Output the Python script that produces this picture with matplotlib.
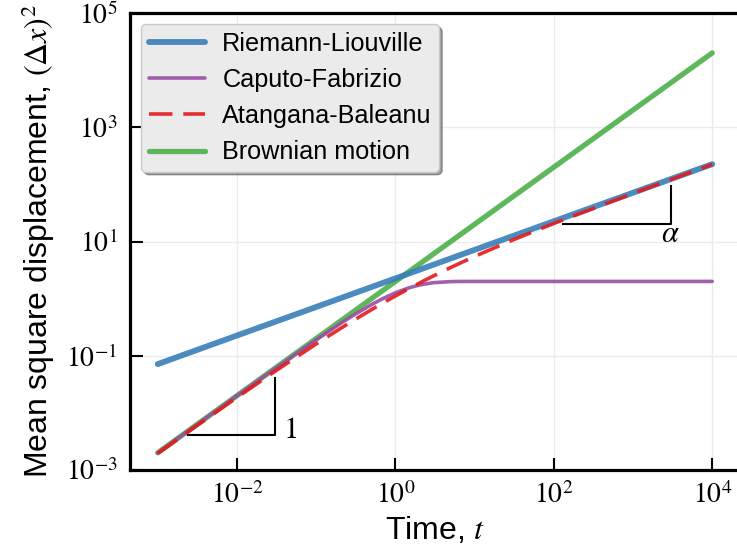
import math
import matplotlib
matplotlib.use('Agg')
import matplotlib.pyplot as plt
from matplotlib.ticker import FuncFormatter

plt.rcParams['font.family'] = ['Liberation Sans', 'DejaVu Sans']
plt.rcParams['mathtext.fontset'] = 'stix'

# values
t_line = [1e-3, 1e-2, 1e-1, 1e0, 1e1, 1e2, 1e3, 1e4]
msd_rl = [0.0714, 0.226, 0.714, 2.26, 7.14, 22.6, 71.4, 226.0]
msd_bm = [0.002, 0.02, 0.2, 2.0, 20.0, 200.0, 2000.0, 20000.0]

t_cf = [1e-3, 3e-3, 1e-2, 3e-2, 0.1, 0.2, 0.3, 0.5, 0.7, 1.0, 1.5, 2.0, 3.0, 5.0, 7.0, 10.0, 100.0, 1e4]
msd_cf = [0.002, 0.00599, 0.0199, 0.0591, 0.190, 0.363, 0.518, 0.787, 1.007, 1.264, 1.554,
          1.729, 1.900, 1.987, 1.998, 2.0, 2.0, 2.0]

t_ab = [1e-3, 3e-3, 1e-2, 3e-2, 0.1, 0.2, 0.3, 0.5, 0.7, 1.0, 1.5, 2.0, 3.0, 5.0, 10.0, 30.0, 100.0, 1e3, 1e4]
msd_ab = [0.00195, 0.00576, 0.0186, 0.0530, 0.161, 0.297, 0.420, 0.642, 0.842, 1.112, 1.512,
          1.864, 2.484, 3.511, 5.478, 10.56, 20.68, 69.40, 223.7]

labels = ['Riemann-Liouville', 'Caputo-Fabrizio', 'Atangana-Baleanu', 'Brownian motion']

fig = plt.figure(figsize=(7.37, 5.58), dpi=100)
ax = fig.add_axes([0.1764, 0.1577, 0.8276, 0.819])

ax.plot(t_line, msd_rl, color='#377eb8', alpha=0.9, lw=4.2, solid_capstyle='round', label=labels[0], zorder=3)
ax.plot(t_cf, msd_cf, color='#984ea3', alpha=0.9, lw=2.6, solid_capstyle='round', label=labels[1], zorder=4)
ax.plot(t_ab, msd_ab, color='#e41a1c', alpha=0.9, lw=2.6, ls=(0, (6.5, 3)), label=labels[2], zorder=5)
ax.plot(t_line, msd_bm, color='#4daf4a', alpha=0.9, lw=3.8, solid_capstyle='round', label=labels[3], zorder=2)

# slope markers
ax.plot([2.43e-3, 3.05e-2, 3.05e-2], [4.09e-3, 4.09e-3, 4.06e-2], color='k', lw=1.5, zorder=6)
ax.text(4.7e-2, 5.0e-3, r'$1$', fontsize=22, ha='center', va='center')
ax.plot([131, 3054, 3054], [20.6, 20.6, 92.3], color='k', lw=1.5, zorder=6)
ax.text(2950, 13.4, r'$\alpha$', fontsize=22, ha='center', va='center')

ax.set_xscale('log')
ax.set_yscale('log')
ax.set_xlim(10**-3.35, 10**4.35)
ax.set_ylim(1e-3, 1e5)
ax.set_xticks([1e-2, 1e0, 1e2, 1e4])
ax.set_yticks([1e-3, 1e-1, 1e1, 1e3, 1e5])
ax.minorticks_off()
fmt = FuncFormatter(lambda v, p: r'$10^{%d}$' % round(math.log10(v)))
ax.xaxis.set_major_formatter(fmt)
ax.yaxis.set_major_formatter(fmt)
ax.tick_params(direction='in', length=9, width=1.5, labelsize=20, pad=9)
ax.grid(True, color='#ebebeb', lw=1, zorder=0)
ax.set_axisbelow(True)
for s in ax.spines.values():
    s.set_linewidth(2.3)
ax.spines['right'].set_visible(False)

ax.set_xlabel('Time, $t$', fontsize=23, labelpad=4)
ax.set_ylabel(r'Mean square displacement, $(\Delta x)^2$', fontsize=23, labelpad=6)

leg = ax.legend(loc='upper left', fontsize=18.2, handlelength=2.2, handletextpad=0.7,
                labelspacing=0.48, borderpad=0.3, borderaxespad=0.45, fancybox=True, shadow=True,
                framealpha=1, facecolor='#ebebeb', edgecolor='#c8c8c8')

fig.savefig('out.png', dpi=100)
